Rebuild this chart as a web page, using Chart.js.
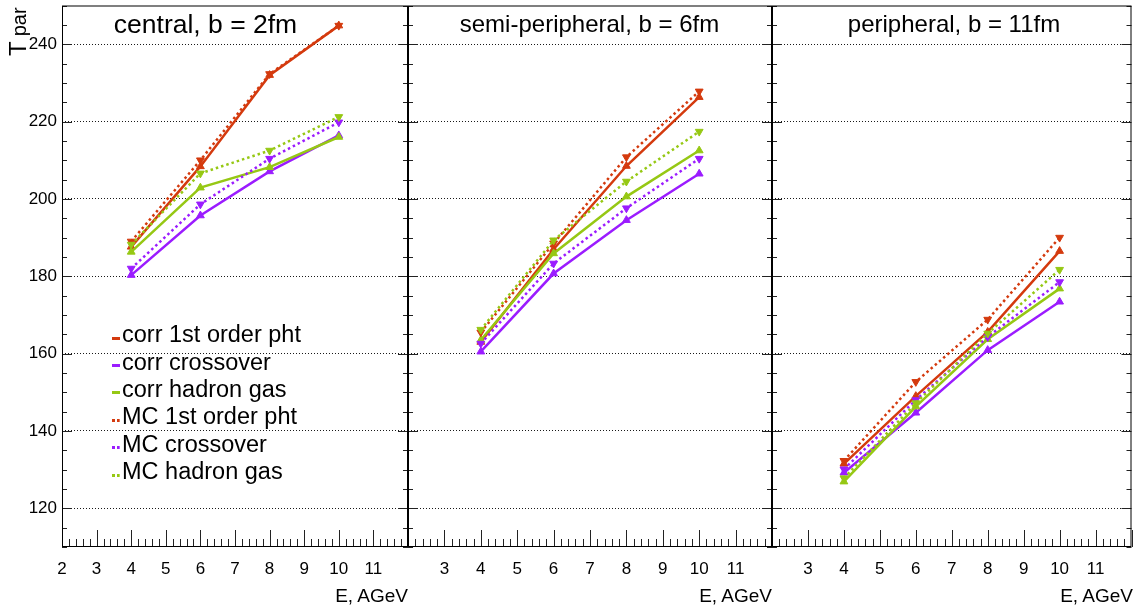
<!DOCTYPE html>
<html><head><meta charset="utf-8">
<script src="https://cdn.jsdelivr.net/npm/chart.js@4.4.1/dist/chart.umd.min.js"></script>
<style>
html,body{margin:0;padding:0;background:#fff;}
#wrap{position:relative;width:1137px;height:610px;overflow:hidden;font-family:"Liberation Sans",Arial,Helvetica,sans-serif;color:#000;}
canvas{position:absolute;left:0;top:0;}
.t{position:absolute;white-space:nowrap;}
</style></head><body>
<div id="wrap">
<canvas id="c0" width="1137" height="610"></canvas>
<canvas id="c1" width="1137" height="610"></canvas>
<canvas id="c2" width="1137" height="610"></canvas>
</div>
<script>
// ---------- data ----------
const energies = [4, 6, 8, 10];
const seriesNames = ['corr 1st order pht', 'corr crossover', 'corr hadron gas', 'MC 1st order pht', 'MC crossover', 'MC hadron gas'];
const panelTitles = ['central, b = 2fm', 'semi-peripheral, b = 6fm', 'peripheral, b = 11fm'];
const xAxisTitle = 'E, AGeV';
const yTickValues = [120, 140, 160, 180, 200, 220, 240];
const xTickValues = [2, 3, 4, 5, 6, 7, 8, 9, 10, 11, 12];

// central, b = 2fm
const centralCorr1st   = [187.6, 208.4, 232.0, 244.8];
const centralCorrCross = [180.3, 195.7, 207.1, 216.4];
const centralCorrHad   = [186.3, 202.9, 208.2, 216.0];
const centralMC1st     = [189.0, 210.0, 232.3, 244.8];
const centralMCCross   = [182.0, 198.6, 210.4, 219.8];
const centralMCHad     = [188.2, 206.6, 212.5, 221.2];
// semi-peripheral, b = 6fm
const semiCorr1st   = [163.0, 187.0, 208.5, 226.3];
const semiCorrCross = [160.5, 180.7, 194.5, 206.5];
const semiCorrHad   = [163.5, 185.9, 200.6, 212.5];
const semiMC1st     = [165.5, 188.5, 210.8, 227.8];
const semiMCCross   = [162.6, 183.3, 197.6, 210.4];
const semiMCHad     = [166.2, 189.3, 204.5, 217.4];
// peripheral, b = 11fm
const periCorr1st   = [131.5, 149.0, 165.6, 186.5];
const periCorrCross = [129.2, 144.7, 160.9, 173.4];
const periCorrHad   = [126.9, 146.3, 163.7, 176.8];
const periMC1st     = [132.3, 152.7, 168.8, 190.0];
const periMCCross   = [130.1, 148.0, 164.3, 178.5];
const periMCHad     = [127.8, 147.2, 165.2, 181.7];

const panelData = [
  [centralCorr1st, centralCorrCross, centralCorrHad, centralMC1st, centralMCCross, centralMCHad],
  [semiCorr1st, semiCorrCross, semiCorrHad, semiMC1st, semiMCCross, semiMCHad],
  [periCorr1st, periCorrCross, periCorrHad, periMC1st, periMCCross, periMCHad]
];

// ---------- styling / layout ----------
const FONT = '"Liberation Sans", Arial, Helvetica, sans-serif';
const W = 1137, H = 610;
const colors = ['#d43a0e', '#9b1cff', '#96c814'];
const panels = [
  {left: 62, right: 408, yw: 62},
  {left: 408, right: 772, yw: 0},
  {left: 772, right: 1133, yw: 0}
];
const TOP = 5, BOTTOM = 547;

const framePlugin = {
  id: 'frame',
  afterDraw(chart) {
    const {ctx, chartArea: a, scales: {x, y}} = chart;
    ctx.save();
    ctx.lineWidth = 1;
    ctx.strokeStyle = '#222';
    const line = (x1, y1, x2, y2) => { ctx.beginPath(); ctx.moveTo(x1, y1); ctx.lineTo(x2, y2); ctx.stroke(); };
    for (let v = 110; v <= 250; v += 5) {
      const py = Math.round(y.getPixelForValue(v)) + 0.5;
      const len = (v % 20 === 0) ? 10 : 5;
      line(a.left, py, a.left + len, py);
      line(a.right - len, py, a.right, py);
    }
    for (let k = 0; k <= 50; k++) {
      const v = 2 + k * 0.2;
      const px = Math.round(x.getPixelForValue(v)) + 0.5;
      const len = (k % 5 === 0) ? 17 : 8;
      line(px, a.bottom, px, a.bottom - len);
    }
    ctx.strokeStyle = '#000';
    ctx.strokeRect(a.left + 0.5, a.top + 0.5, a.right - a.left - 1, a.bottom - a.top - 1);
    ctx.restore();
  }
};

function makeChart(idx) {
  const g = panels[idx];
  const datasets = panelData[idx].map((vals, i) => ({
    label: seriesNames[i],
    data: energies.map((e, j) => ({x: e, y: vals[j]})),
    borderColor: colors[i % 3],
    backgroundColor: colors[i % 3],
    borderWidth: 2.5,
    borderDash: i >= 3 ? [2.5, 3] : [],
    pointStyle: 'triangle',
    rotation: i >= 3 ? 180 : 0,
    pointRadius: 4.5,
    pointBorderWidth: 1,
    tension: 0,
    order: 5 - i
  }));
  return new Chart(document.getElementById('c' + idx), {
    type: 'line',
    data: {datasets},
    options: {
      responsive: false,
      animation: false,
      devicePixelRatio: 1,
      layout: {padding: {left: g.left - g.yw, right: W - g.right, top: TOP, bottom: 0}},
      plugins: {legend: {display: false}, tooltip: {enabled: false}},
      scales: {
        x: {
          type: 'linear', min: 2, max: 12,
          afterBuildTicks: s => { s.ticks = xTickValues.map(v => ({value: v})); },
          afterFit: s => { s.height = H - BOTTOM; s.paddingLeft = 0; s.paddingRight = 0; },
          grid: {display: false, drawTicks: false},
          border: {display: false},
          ticks: {
            autoSkip: false, maxRotation: 0, minRotation: 0, padding: 12, color: '#000',
            font: {family: FONT, size: 17},
            callback: v => (v >= 12 || (idx > 0 && v < 3)) ? '' : String(v)
          }
        },
        y: {
          type: 'linear', min: 110, max: 250,
          afterBuildTicks: s => { s.ticks = yTickValues.map(v => ({value: v})); },
          afterFit: s => { s.width = g.yw; s.paddingTop = 0; s.paddingBottom = 0; },
          grid: {color: 'rgba(0,0,0,0.9)', lineWidth: 1, drawTicks: false},
          border: {display: false, dash: [1, 2]},
          ticks: {display: idx === 0, padding: 5, color: '#000', font: {family: FONT, size: 17}}
        }
      }
    },
    plugins: [framePlugin]
  });
}

[0, 1, 2].forEach(makeChart);

// ---------- text overlays ----------
const wrap = document.getElementById('wrap');
function addText(txt, size, baseline, opts) {
  const d = document.createElement('div');
  d.className = 't';
  d.textContent = txt;
  d.style.fontSize = size + 'px';
  d.style.lineHeight = size + 'px';
  d.style.top = (baseline - 0.8465 * size) + 'px';
  if (opts.center !== undefined) { d.style.left = opts.center + 'px'; d.style.transform = 'translateX(-50%)'; }
  if (opts.right !== undefined) { d.style.right = (W - opts.right) + 'px'; }
  if (opts.left !== undefined) { d.style.left = opts.left + 'px'; }
  wrap.appendChild(d);
  return d;
}
const titleSpec = [{c: 205.5, s: 26.5, b: 33}, {c: 589.5, s: 24, b: 32}, {c: 954, s: 24, b: 32}];
panelTitles.forEach((t, i) => addText(t, titleSpec[i].s, titleSpec[i].b, {center: titleSpec[i].c}));
panels.forEach(p => addText(xAxisTitle, 19, 602, {right: p.right}));

// y-axis title T_par (rotated)
const yt = document.createElement('div');
yt.className = 't';
yt.style.fontSize = '24px';
yt.style.lineHeight = '24px';
yt.style.left = '6px';
yt.style.top = '56px';
yt.style.transformOrigin = 'left top';
yt.style.transform = 'rotate(-90deg)';
yt.innerHTML = 'T<span style="font-size:20px;margin-left:5px;position:relative;top:0px">par</span>';
wrap.appendChild(yt);

// legend
const legendBase = 343, legendStep = 27.4;
seriesNames.forEach((name, i) => {
  const b = legendBase + i * legendStep;
  const d = addText(name, 23.5, b, {left: 122});
  const m = document.createElement('div');
  m.className = 't';
  m.style.left = '112px';
  m.style.top = (b - 6.5) + 'px';
  m.style.width = '8px';
  m.style.height = '0px';
  m.style.borderTop = i >= 3 ? ('3px dotted ' + colors[i % 3]) : ('3px solid ' + colors[i % 3]);
  wrap.appendChild(m);
});
</script>
</body></html>
